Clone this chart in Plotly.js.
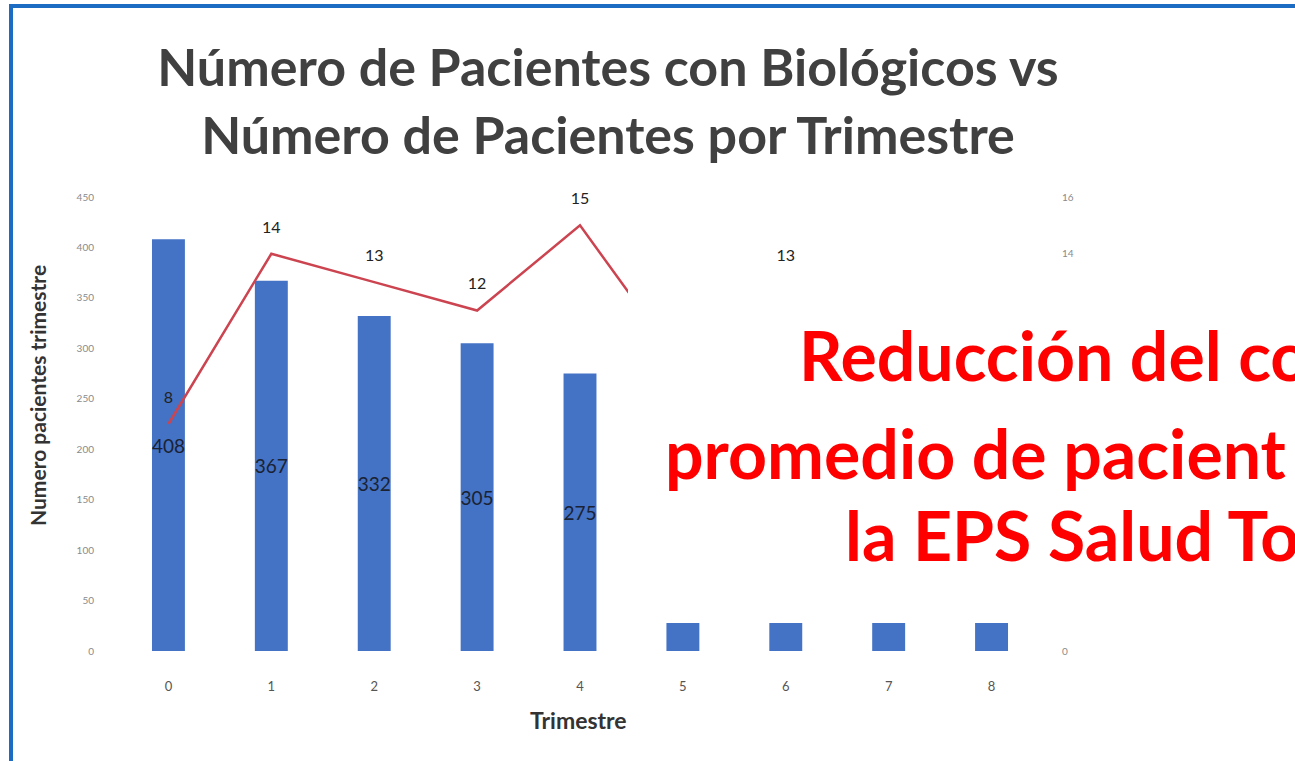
<!DOCTYPE html>
<html>
<head>
<meta charset="utf-8">
<script src="https://cdn.plot.ly/plotly-3.0.1.min.js"></script>
<style>
  html, body { margin: 0; padding: 0; background: #ffffff; }
  #wrap { position: relative; width: 1295px; height: 761px; overflow: hidden; }
  #chart { position: absolute; left: 0; top: 0; width: 1295px; height: 761px; }
  #frame { position: absolute; left: 9px; top: 4px; width: 1300px; height: 754px;
           border-left: 4px solid #1c6cc4; border-top: 4px solid #1c6cc4;
           border-bottom: 2px solid #cfe4f7; pointer-events: none; }
</style>
</head>
<body>
<div id="wrap">
  <div id="chart"></div>
  <div id="frame"></div>
</div>
<script>
// ---- data ----
const trimestres = [0, 1, 2, 3, 4, 5, 6, 7, 8];
const pacientesTrimestre = [408, 367, 332, 305, 275, 252, 230, 210, 185];
const pacientesBiologicos = [8, 14, 13, 12, 15, 10, 13, 12, 11];
const xTickLabels = ['0', '1', '2', '3', '4', '5', '6', '7', '8'];

const titleText = 'Número de Pacientes con Biológicos vs<br>Número de Pacientes por Trimestre';
const yTitleText = 'Numero pacientes trimestre';
const xTitleText = 'Trimestre';
const overlayLines = ['Reducción del co', 'promedio de pacient', 'la EPS Salud To'];

// ---- geometry (pixels -> paper) ----
const W = 1295, H = 761;
const M = { l: 117, r: 252, t: 197, b: 110 };
const pw = W - M.l - M.r, ph = H - M.t - M.b;
const px = x => (x - M.l) / pw;
const py = y => (H - M.b - y) / ph;

const bars = {
  type: 'bar',
  x: trimestres,
  y: pacientesTrimestre,
  width: 0.32,
  marker: { color: '#4472C4' },
  text: pacientesTrimestre.map(String),
  textposition: 'inside',
  insidetextanchor: 'middle',
  textangle: 0,
  constraintext: 'none',
  textfont: { family: 'Lato, sans-serif', size: 19, color: '#1a2233' },
  hoverinfo: 'x+y',
  showlegend: false
};

const line = {
  type: 'scatter',
  mode: 'lines+markers+text',
  x: trimestres,
  y: pacientesBiologicos,
  yaxis: 'y2',
  line: { color: '#CC4450', width: 2.5 },
  marker: { size: 26, color: 'rgba(0,0,0,0)' },
  text: pacientesBiologicos.map(String),
  textposition: 'top center',
  textfont: { family: 'Lato, sans-serif', size: 16, color: '#222222' },
  cliponaxis: false,
  showlegend: false
};

const overlayY = [354, 452, 534];
const overlayX = [797, 663, 843];

const annotations = [
  {
    text: yTitleText, xref: 'paper', yref: 'paper',
    x: px(37), y: py(396), textangle: -90, showarrow: false,
    xanchor: 'center', yanchor: 'middle',
    font: { family: 'Lato, sans-serif', size: 21, color: '#333333', weight: 700 }
  },
  {
    text: xTitleText, xref: 'paper', yref: 'paper',
    x: px(578), y: py(720), showarrow: false,
    xanchor: 'center', yanchor: 'middle',
    font: { family: 'Lato, sans-serif', size: 23, color: '#333333', weight: 700 }
  }
];
overlayLines.forEach((t, i) => {
  annotations.push({
    text: t, xref: 'paper', yref: 'paper',
    x: px(overlayX[i]), y: py(overlayY[i]), showarrow: false,
    xanchor: 'left', yanchor: 'middle',
    font: { family: 'Lato, sans-serif', size: 68, color: '#FF0000', weight: 700 }
  });
});

const layout = {
  width: W, height: H,
  margin: M,
  paper_bgcolor: '#ffffff',
  plot_bgcolor: '#ffffff',
  title: {
    text: titleText,
    x: 608 / W, xanchor: 'center',
    y: 1 - 86 / H, yanchor: 'top',
    font: { family: 'Lato, sans-serif', size: 52, color: '#404040', weight: 700 }
  },
  xaxis: {
    range: [-0.5, 8.5],
    tickvals: trimestres,
    ticktext: xTickLabels,
    showgrid: false, zeroline: false, showline: false,
    ticks: 'outside', ticklen: 23, tickcolor: 'rgba(0,0,0,0)',
    tickfont: { family: 'Lato, sans-serif', size: 13, color: '#555555' }
  },
  yaxis: {
    range: [0, 450], dtick: 50,
    showgrid: false, zeroline: false, showline: false,
    ticks: 'outside', ticklen: 20, tickcolor: 'rgba(0,0,0,0)',
    tickfont: { family: 'Lato, sans-serif', size: 10, color: '#8a8a8a' }
  },
  yaxis2: {
    overlaying: 'y', side: 'right',
    range: [0, 16], dtick: 2,
    showgrid: false, zeroline: false, showline: false,
    ticks: 'outside', ticklen: 16, tickcolor: 'rgba(0,0,0,0)',
    tickfont: { family: 'Lato, sans-serif', size: 10, color: '#8a8a8a' }
  },
  shapes: [{
    type: 'rect', xref: 'paper', yref: 'paper', layer: 'above',
    x0: px(628), x1: px(1300), y0: py(623), y1: py(265),
    fillcolor: '#ffffff', line: { width: 0 }
  }],
  annotations: annotations,
  showlegend: false
};

Plotly.newPlot('chart', [bars, line], layout, { displayModeBar: false, staticPlot: true });
</script>
</body>
</html>
